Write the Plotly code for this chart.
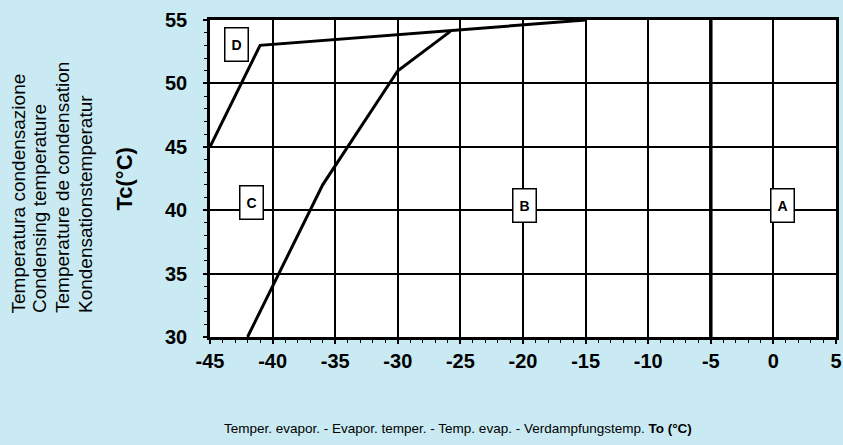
import plotly.graph_objects as go

# Boundary curves (evaporating temp To, condensing temp Tc)
curve_d_x = [-45, -41, -15]
curve_d_y = [45, 53, 55]
curve_b_x = [-42, -36, -30, -25.8]
curve_b_y = [30, 42, 51, 54.1]
split_x = [-5, -5]
split_y = [30, 55]

region_labels = ["D", "C", "B", "A"]
region_label_x = [-42.85, -41.7, -19.9, 0.75]
region_label_y = [53.1, 40.6, 40.4, 40.4]

x_ticks = [-45, -40, -35, -30, -25, -20, -15, -10, -5, 0, 5]
y_ticks = [30, 35, 40, 45, 50, 55]

y_title_lines = ["Temperatura condensazione", "Condensing temperature",
                 "Temperature de condensation", "Kondensationstemperatur"]
y_title_main = "Tc(°C)"
x_title = "Temper. evapor. - Evapor. temper. - Temp. evap. - Verdampfungstemp. <b>To (°C)</b>"

BG = "#c9eaf2"
FONT = "Liberation Sans, Arial, sans-serif"

fig = go.Figure()
fig.add_trace(go.Scatter(x=curve_d_x, y=curve_d_y, mode="lines",
                         line=dict(color="black", width=3), showlegend=False))
fig.add_trace(go.Scatter(x=curve_b_x, y=curve_b_y, mode="lines",
                         line=dict(color="black", width=3), showlegend=False))
fig.add_trace(go.Scatter(x=split_x, y=split_y, mode="lines",
                         line=dict(color="black", width=3.5), showlegend=False))

for lab, lx, ly in zip(region_labels, region_label_x, region_label_y):
    fig.add_annotation(x=lx, y=ly, xref="x", yref="y", text=f"<b>{lab}</b>",
                       showarrow=False, font=dict(family=FONT, size=14, color="black"),
                       bgcolor="white", bordercolor="black", borderwidth=1.5,
                       borderpad=0, width=22, height=32)

line_px = [17.5, 39.5, 62.5, 85]
for txt, px in zip(y_title_lines, line_px):
    fig.add_annotation(x=(px - 210) / 626, y=(337 - 315) / 317, xref="paper", yref="paper",
                       text=txt, textangle=-90, showarrow=False,
                       xanchor="center", yanchor="bottom",
                       font=dict(family=FONT, size=19, color="black"))

fig.add_annotation(x=(123.5 - 210) / 626, y=(337 - 179) / 317, xref="paper", yref="paper",
                   text=f"<b>{y_title_main}</b>", textangle=-90, showarrow=False,
                   xanchor="center", yanchor="middle",
                   font=dict(family=FONT, size=22, color="black"))

fig.add_annotation(x=(457.5 - 210) / 626, y=(337 - 428) / 317, xref="paper", yref="paper",
                   text=x_title, showarrow=False, xanchor="center", yanchor="middle",
                   font=dict(family=FONT, size=13.5, color="black"))

axis_common = dict(showgrid=True, gridcolor="black", gridwidth=2, automargin=False,
                   showline=True, linecolor="black", linewidth=2.5, mirror=True,
                   zeroline=False, ticks="outside", ticklen=4, tickcolor="black", tickwidth=1.5,
                   tickfont=dict(family=FONT, size=20, color="black", weight="bold"),
                   minor=dict(dtick=1, ticks="outside", ticklen=3, tickcolor="black",
                              tickwidth=1, showgrid=False))

fig.update_xaxes(range=[-45, 5], tickvals=x_ticks, ticktext=[str(v) for v in x_ticks],
                 **axis_common)
fig.update_yaxes(range=[30, 55], tickvals=y_ticks, ticktext=[str(v) for v in y_ticks],
                 ticklabelstandoff=12, **axis_common)

fig.update_layout(width=843, height=445, margin=dict(l=210, r=7, t=20, b=108, autoexpand=False),
                  paper_bgcolor=BG, plot_bgcolor="white", showlegend=False)

fig.write_html("out.html", config={"displayModeBar": False},
               post_script="document.body.style.margin='0px';document.body.style.overflow='hidden';")
